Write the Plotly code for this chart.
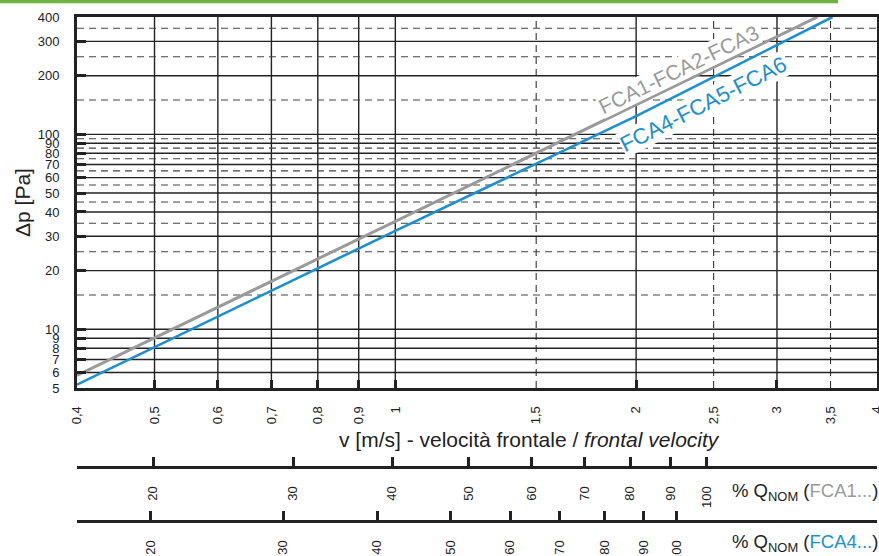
import math
import plotly.graph_objects as go

# ---- data ----
v_fca13 = [0.4, 1.0, 2.0, 3.37]
dp_fca13 = [5.8, 35.7, 142, 400]
v_fca46 = [0.4, 1.0, 2.0, 3.52]
dp_fca46 = [5.2, 32.0, 124, 400]

x_tickvals = [0.4, 0.5, 0.6, 0.7, 0.8, 0.9, 1, 1.5, 2, 2.5, 3, 3.5, 4]
x_ticktext = ["0,4", "0,5", "0,6", "0,7", "0,8", "0,9", "1", "1,5", "2", "2,5", "3", "3,5", "4"]
x_grid_solid = [0.5, 0.6, 0.7, 0.8, 0.9, 1, 2, 3]
x_grid_dash = [1.5, 2.5, 3.5]

y_tickvals = [5, 6, 7, 8, 9, 10, 20, 30, 40, 50, 60, 70, 80, 90, 100, 200, 300, 400]
y_grid_solid = [6, 7, 8, 9, 10, 20, 30, 40, 50, 60, 70, 80, 90, 100, 200, 300]
y_grid_dash = [15, 25, 35, 45, 55, 65, 75, 85, 95, 150, 250, 350]

q_pct = [20, 30, 40, 50, 60, 70, 80, 90, 100]
q_v_fca1 = [0.498, 0.745, 0.991, 1.235, 1.48, 1.723, 1.966, 2.211, 2.452]
q_v_fca4 = [0.494, 0.724, 0.949, 1.173, 1.392, 1.606, 1.826, 2.042, 2.249]

GRAY = "#9a9a9a"
BLUE = "#1b8fd2"
INK = "#222222"
FONT = "Liberation Sans, Arial, sans-serif"

W, H = 879, 556
ML, MR, MT, MB = 77, 2, 17, 0
PH = H - MT - MB
PW = W - ML - MR


def py(pix):
    return (H - MB - pix) / PH


def px(pix):
    return (pix - ML) / PW


fig = go.Figure()
fig.add_trace(go.Scatter(x=v_fca13, y=dp_fca13, mode="lines",
                         line=dict(color=GRAY, width=3), hoverinfo="skip",
                         showlegend=False))
fig.add_trace(go.Scatter(x=v_fca46, y=dp_fca46, mode="lines",
                         line=dict(color=BLUE, width=2.6), hoverinfo="skip",
                         showlegend=False))
# invisible carriers for the two percentage scales
fig.add_trace(go.Scatter(x=q_v_fca1, y=[10] * len(q_v_fca1), xaxis="x2", yaxis="y",
                         mode="markers", marker=dict(opacity=0), hoverinfo="skip",
                         showlegend=False))
fig.add_trace(go.Scatter(x=q_v_fca4, y=[10] * len(q_v_fca4), xaxis="x3", yaxis="y",
                         mode="markers", marker=dict(opacity=0), hoverinfo="skip",
                         showlegend=False))

shapes = []
for v in x_grid_solid:
    shapes.append(dict(type="line", xref="x", yref="y domain", x0=v, x1=v, y0=0, y1=1,
                       line=dict(color=INK, width=1.4), layer="below"))
for v in x_grid_dash:
    shapes.append(dict(type="line", xref="x", yref="y domain", x0=v, x1=v, y0=0, y1=1,
                       line=dict(color="#333333", width=1.1, dash="7px,5px"), layer="below"))
for d in y_grid_solid:
    shapes.append(dict(type="line", xref="x domain", yref="y", x0=0, x1=1, y0=d, y1=d,
                       line=dict(color=INK, width=1.4), layer="below"))
for d in y_grid_dash:
    shapes.append(dict(type="line", xref="x domain", yref="y", x0=0, x1=1, y0=d, y1=d,
                       line=dict(color="#444444", width=1.1, dash="7px,5px"), layer="below"))
# green header rule
shapes.append(dict(type="line", xref="paper", yref="paper", x0=px(0), x1=px(838),
                   y0=py(1.5), y1=py(1.5), line=dict(color="#6db33f", width=3.5)))

tickfont = dict(family=FONT, size=13, color=INK)
XRANGE = [math.log10(0.4), math.log10(4) + 1e-4]

sec_axis = dict(type="log", range=XRANGE, overlaying="x",
                anchor="free", side="bottom", showline=True, linewidth=3, linecolor=INK,
                ticks="inside", ticklen=9, tickwidth=3, tickcolor=INK, tickangle=-90,
                tickfont=tickfont, showgrid=False, zeroline=False, automargin=False,
                ticklabelstandoff=12, ticklabeloverflow="allow",
                tickmode="array", ticktext=[str(p) for p in q_pct])


def ann(text, xpix, ypix, size, color=INK, angle=0, **kw):
    d = dict(text=text, xref="paper", yref="paper", x=px(xpix), y=py(ypix),
             showarrow=False, textangle=angle, xanchor="center", yanchor="middle",
             font=dict(family=FONT, size=size, color=color))
    d.update(kw)
    return d


fig.update_layout(
    width=W, height=H,
    margin=dict(l=ML, r=MR, t=MT, b=MB),
    template="none",
    paper_bgcolor="white", plot_bgcolor="white",
    font=dict(family=FONT, color=INK),
    showlegend=False,
    xaxis=dict(type="log", range=XRANGE, domain=[0, 1],
               anchor="y", showline=True, mirror=True, linewidth=3, linecolor=INK,
               tickmode="array", tickvals=x_tickvals, ticktext=x_ticktext,
               tickangle=-90, tickfont=tickfont, ticks="", showgrid=False,
               zeroline=False, automargin=False, ticklabelstandoff=10,
               ticklabeloverflow="allow",
               minor=dict(tickmode="array", tickvals=x_grid_solid, ticks="inside",
                          ticklen=8, tickwidth=3, tickcolor=INK, showgrid=False)),
    yaxis=dict(type="log", range=[math.log10(5), math.log10(400)], domain=[py(388), 1],
               anchor="x", showline=True, mirror=True, linewidth=3, linecolor=INK,
               tickmode="array", tickvals=y_tickvals, ticktext=[str(t) for t in y_tickvals],
               ticks="inside", ticklen=9, tickwidth=3, tickcolor=INK,
               tickfont=tickfont, showgrid=False, zeroline=False, automargin=False,
               ticklabelstandoff=12),
    xaxis2=dict(sec_axis, position=py(467), tickvals=q_v_fca1),
    xaxis3=dict(sec_axis, position=py(521), tickvals=q_v_fca4),
    shapes=shapes,
    annotations=[
        ann("FCA1-FCA2-FCA3", 678.5, 69, 21, GRAY, -26, bgcolor="white", borderpad=0),
        ann("FCA4-FCA5-FCA6", 703, 105, 22, BLUE, -27, bgcolor="white", borderpad=0),
        ann("v [m/s] - velocità frontale / <i>frontal velocity</i>", 529, 439, 21),
        ann("Δp [Pa]", 22, 202, 21, angle=-90),
        ann("% Q<sub>NOM</sub> (<span style='color:#9a9a9a'>FCA1...</span>)",
            730, 492, 18.5, xanchor="left"),
        ann("% Q<sub>NOM</sub> (<span style='color:#1b8fd2'>FCA4...</span>)",
            730, 543, 18.5, xanchor="left"),
    ],
)

fig.write_html("out.html", config={"displayModeBar": False},
               post_script="document.body.style.margin='0';document.body.style.padding='0';")
